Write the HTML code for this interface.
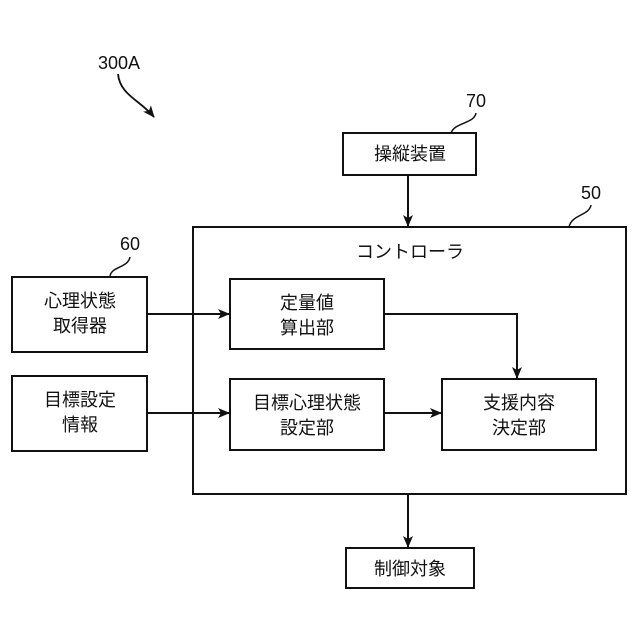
<!DOCTYPE html>
<html><head><meta charset="utf-8"><style>
html,body{margin:0;padding:0;background:#fff;width:640px;height:640px;overflow:hidden}
svg text{font-family:"Liberation Sans","Noto Sans CJK JP",sans-serif;fill:#111}
</style></head><body>
<svg width="640" height="640" viewBox="0 0 640 640" xmlns="http://www.w3.org/2000/svg">
<defs><marker id="a" markerWidth="12" markerHeight="10" refX="11" refY="5" orient="auto" markerUnits="userSpaceOnUse"><path d="M0,0 L12,5 L0,10 L3,5 Z" fill="#111"/></marker></defs>
<g fill="none" stroke="#111" stroke-width="2">
<rect x="343" y="133" width="133" height="42"/>
<rect x="193" y="227" width="433" height="267"/>
<rect x="12" y="277" width="135" height="75"/>
<rect x="12" y="376" width="135" height="75"/>
<rect x="230" y="279" width="154" height="70"/>
<rect x="230" y="379" width="154" height="71"/>
<rect x="442" y="379" width="154" height="71"/>
<rect x="346" y="548" width="128" height="40"/>
<path d="M408 175 V226" marker-end="url(#a)"/>
<path d="M147 314 H229" marker-end="url(#a)"/>
<path d="M147 413 H229" marker-end="url(#a)"/>
<path d="M384 413 H441" marker-end="url(#a)"/>
<path d="M384 314 H517 V378" marker-end="url(#a)"/>
<path d="M408 494 V547" marker-end="url(#a)"/>
<path d="M118 74 C120 95 140 100 154 117" marker-end="url(#a)" stroke-width="1.8"/>
<path d="M130 257 C128 268 112 266 110 276" stroke-width="1.5"/>
<path d="M476 113 C474 124 455 122 451 133" stroke-width="1.5"/>
<path d="M591 205 C589 216 572 214 569 227" stroke-width="1.5"/>
</g>
<g font-size="18" text-anchor="middle">
<text x="119" y="69">300A</text>
<text x="476" y="107">70</text>
<text x="591" y="199">50</text>
<text x="130" y="250">60</text>
<text x="410" y="160">操縦装置</text>
<text x="410" y="258">コントローラ</text>
<text x="80" y="307">心理状態</text>
<text x="80" y="332">取得器</text>
<text x="80" y="406">目標設定</text>
<text x="80" y="431">情報</text>
<text x="307" y="309">定量値</text>
<text x="307" y="334">算出部</text>
<text x="307" y="409">目標心理状態</text>
<text x="307" y="434">設定部</text>
<text x="519" y="409">支援内容</text>
<text x="519" y="434">決定部</text>
<text x="410" y="575">制御対象</text>
</g>
</svg>
</body></html>
